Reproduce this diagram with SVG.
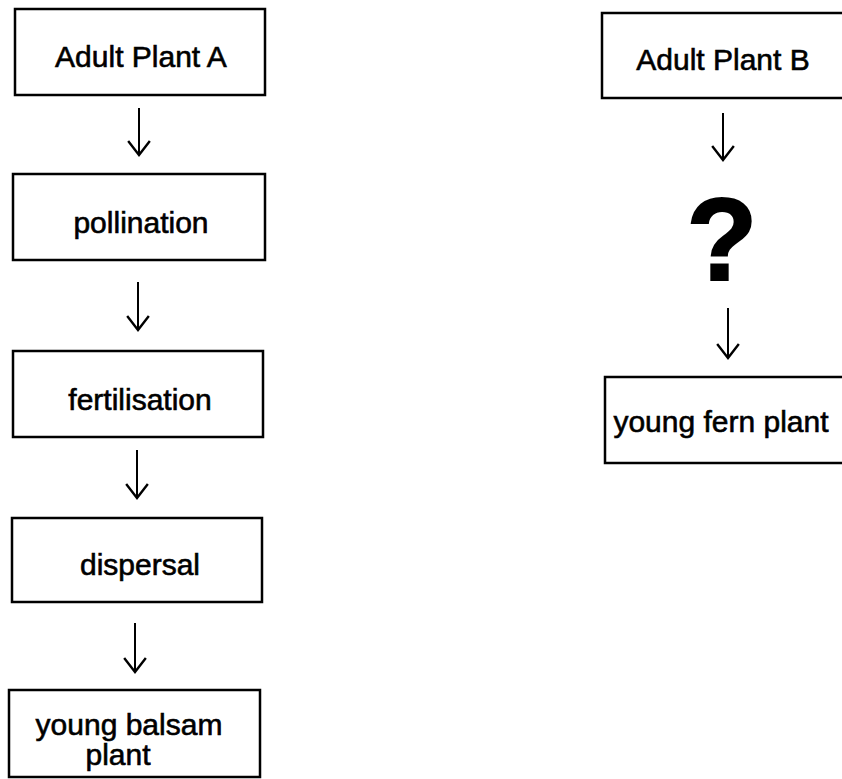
<svg xmlns="http://www.w3.org/2000/svg" width="842" height="779" viewBox="0 0 842 779">
<defs>
<style>
.box{fill:#fff;stroke:#000;stroke-width:2.5}
.t{font-family:"Liberation Sans",Arial,sans-serif;font-size:30px;fill:#000;stroke:#000;stroke-width:0.6;text-anchor:middle}
.c{stroke:#000;stroke-width:2;fill:none}
</style>
<marker id="ah" markerUnits="userSpaceOnUse" markerWidth="20" markerHeight="26" refX="15" refY="12" orient="auto" viewBox="0 0 18 24">
<path d="M2,2 L15,12 L2,22" fill="none" stroke="#000" stroke-width="2.2"/>
</marker>
</defs>
<rect width="842" height="779" fill="#fff"/>
<g id="nodeA">
<rect class="box" x="15" y="9" width="250" height="86"/>
<text class="t" x="141" y="67">Adult Plant A</text>
</g>
<g id="pollination">
<rect class="box" x="13" y="174" width="252" height="86"/>
<text class="t" x="141" y="233">pollination</text>
</g>
<g id="fertilisation">
<rect class="box" x="13" y="351" width="250" height="86"/>
<text class="t" x="140" y="410">fertilisation</text>
</g>
<g id="dispersal">
<rect class="box" x="12" y="518" width="250" height="84"/>
<text class="t" x="140" y="575">dispersal</text>
</g>
<g id="balsam">
<rect class="box" x="9" y="690" width="251" height="87"/>
<text class="t" x="129" y="735">young balsam</text>
<text class="t" x="118" y="765">plant</text>
</g>
<g id="nodeB">
<rect class="box" x="602" y="13" width="245" height="85"/>
<text class="t" x="723" y="70">Adult Plant B</text>
</g>
<g id="question">
<text x="722" y="280" font-family="'Liberation Sans',Arial,sans-serif" font-weight="bold" font-size="116" text-anchor="middle" fill="#000" stroke="#000" stroke-width="2">?</text>
</g>
<g id="fern">
<rect class="box" x="605" y="377" width="245" height="86"/>
<text class="t" x="721" y="432">young fern plant</text>
</g>
<g id="connectors">
<line class="c" x1="139" y1="108" x2="139" y2="155" marker-end="url(#ah)"/>
<line class="c" x1="138" y1="282" x2="138" y2="330" marker-end="url(#ah)"/>
<line class="c" x1="137" y1="450" x2="137" y2="498" marker-end="url(#ah)"/>
<line class="c" x1="135" y1="623" x2="135" y2="672" marker-end="url(#ah)"/>
<line class="c" x1="723" y1="113" x2="723" y2="160" marker-end="url(#ah)"/>
<line class="c" x1="728" y1="308" x2="728" y2="358" stroke-width="3" marker-end="url(#ah)"/>
</g>
</svg>
